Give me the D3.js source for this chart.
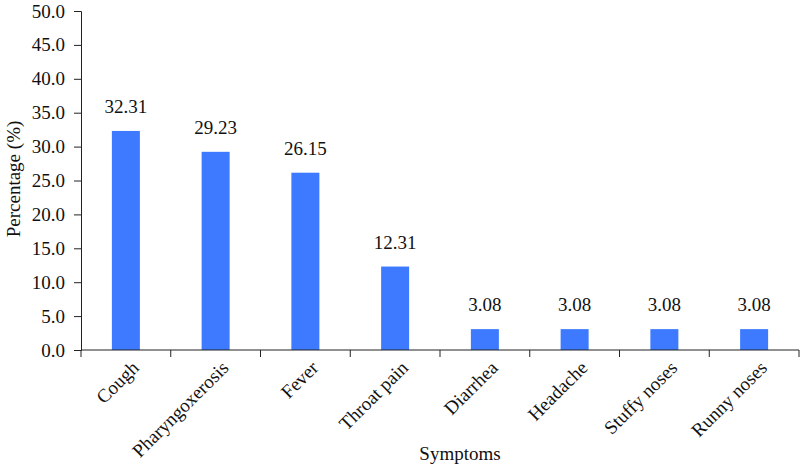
<!DOCTYPE html>
<html><head><meta charset="utf-8">
<script src="https://cdn.jsdelivr.net/npm/d3@7"></script>
<style>body{margin:0;background:#fff;}</style>
</head><body>
<svg id="c" width="800" height="466" font-family="Liberation Serif, Times New Roman, serif"></svg>
<script>
const categories = ["Cough","Pharyngoxerosis","Fever","Throat pain","Diarrhea","Headache","Stuffy noses","Runny noses"];
const values = [32.31,29.23,26.15,12.31,3.08,3.08,3.08,3.08];
const yTicks = [0,5,10,15,20,25,30,35,40,45,50];

const FONT = "'Liberation Serif', 'Times New Roman', serif";
const FS = "19px";
const svg = d3.select("#c");
const m = {left:81, right:1, top:11, bottom:116};
const W = 800, H = 466;
const x = d3.scaleBand().domain(categories).range([m.left, W - m.right]).paddingInner(0).paddingOuter(0);
const y = d3.scaleLinear().domain([0,50]).range([H - m.bottom, m.top]);
const bw = 28;

// bars
svg.selectAll("rect.bar").data(values).enter().append("rect")
  .attr("x",(d,i)=>x(categories[i]) + x.bandwidth()/2 - bw/2)
  .attr("y",d=>y(d)).attr("width",bw).attr("height",d=>y(0)-y(d))
  .attr("fill","#3D7AFF");

// value labels
svg.selectAll("text.val").data(values).enter().append("text")
  .attr("x",(d,i)=>x(categories[i]) + x.bandwidth()/2)
  .attr("y",d=>y(d)-18).attr("text-anchor","middle")
  .style("font-family",FONT).style("font-size",FS).attr("fill","#111").text(d=>d.toFixed(2));

// y axis
const ya = svg.append("g").attr("transform",`translate(${m.left},0)`)
  .call(d3.axisLeft(y).tickValues(yTicks).tickFormat(d=>d.toFixed(1)).tickSizeOuter(0).tickSize(7).tickPadding(9));
ya.attr("font-family",null).attr("font-size",null);
ya.selectAll("text").style("font-family",FONT).style("font-size",FS).attr("fill","#111");
ya.selectAll("line,path").attr("stroke","#222");

// x axis
const xa = svg.append("g").attr("transform",`translate(0,${y(0)})`);
xa.append("line").attr("x1",m.left).attr("x2",W - m.right).attr("stroke","#222");
const bounds = categories.map(c=>x(c)).concat([x(categories[categories.length-1]) + x.bandwidth()]);
xa.selectAll("line.tk").data(bounds).enter().append("line")
  .attr("x1",d=>d).attr("x2",d=>d).attr("y1",0).attr("y2",7).attr("stroke","#222");
xa.selectAll("text.cat").data(categories).enter().append("text")
  .attr("transform",d=>`translate(${x(d)+x.bandwidth()/2+14},${19}) rotate(-45)`)
  .attr("text-anchor","end")
  .style("font-family",FONT).style("font-size",FS).attr("fill","#111").text(d=>d);

// titles
svg.append("text").attr("x",460).attr("y",460).attr("text-anchor","middle")
  .style("font-family",FONT).style("font-size",FS).attr("fill","#111").text("Symptoms");
svg.append("text").attr("transform","translate(20,179) rotate(-90)").attr("text-anchor","middle")
  .style("font-family",FONT).style("font-size",FS).attr("fill","#111").text("Percentage (%)");
</script>
</body></html>
